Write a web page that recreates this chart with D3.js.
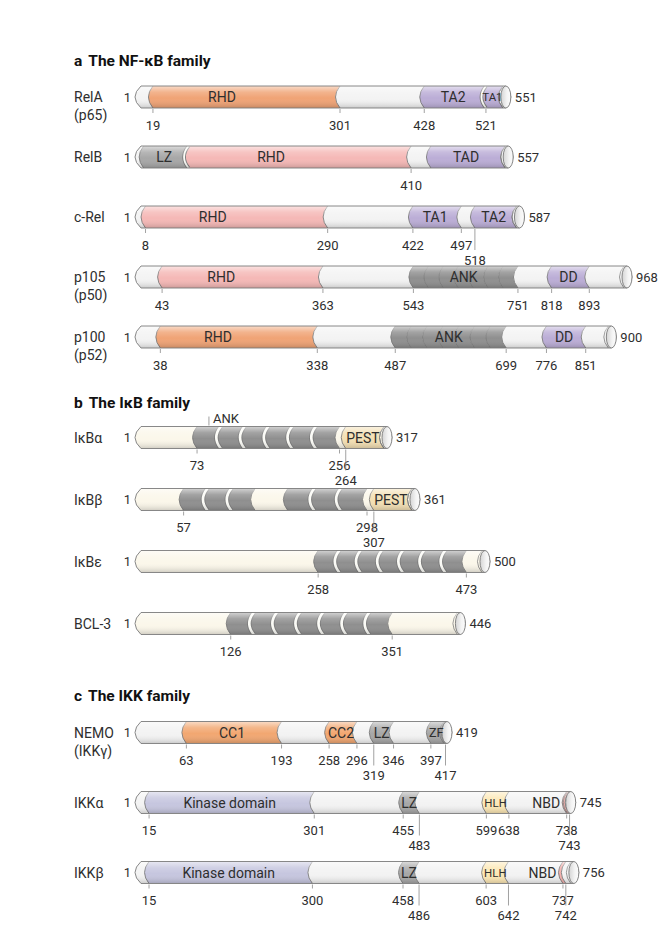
<!DOCTYPE html>
<html><head><meta charset="utf-8">
<script src="https://cdn.jsdelivr.net/npm/d3@7"></script>
<style>
body{margin:0;background:#fff;}
text{font-family:Roboto,"Liberation Sans",sans-serif;fill:#2e2e2e;}
</style></head><body><svg id="c" width="660" height="928"></svg>
<script>
// ---------------- data ----------------
const families = ["a", "b", "c"];
const familyTitles = ["The NF-κB family", "The IκB family", "The IKK family"];
const proteins = ["RelA","RelB","c-Rel","p105","p100","IκBα","IκBβ","IκBε","BCL-3","NEMO","IKKα","IKKβ"];
const proteinAliases = ["(p65)","","","(p50)","(p52)","","","","","(IKKγ)","",""];
const proteinFamily = ["a","a","a","a","a","b","b","b","b","c","c","c"];
const proteinLengths = [551,557,587,968,900,317,361,500,446,419,745,756];
// [protein, label, start residue, end residue, domain type, number of repeats]
const domains = [
 ["RelA","RHD",19,301,"RHDo",1],
 ["RelA","TA2",428,521,"TA",1],
 ["RelA","TA1",521,551,"TA",1],
 ["RelB","LZ",5,73,"LZ",1],
 ["RelB","RHD",73,410,"RHDp",1],
 ["RelB","TAD",440,557,"TA",1],
 ["c-Rel","RHD",8,290,"RHDp",1],
 ["c-Rel","TA1",422,497,"TA",1],
 ["c-Rel","TA2",518,587,"TA",1],
 ["p105","RHD",43,363,"RHDp",1],
 ["p105","ANK",543,751,"ANK",7],
 ["p105","DD",818,893,"TA",1],
 ["p100","RHD",38,338,"RHDo",1],
 ["p100","ANK",487,699,"ANK",7],
 ["p100","DD",776,851,"TA",1],
 ["IκBα","",73,256,"ANK",6],
 ["IκBα","PEST",264,317,"PEST",1],
 ["IκBβ","",57,151,"ANK",3],
 ["IκBβ","",194,298,"ANK",3],
 ["IκBβ","PEST",307,361,"PEST",1],
 ["IκBε","",258,473,"ANK",7],
 ["BCL-3","",126,351,"ANK",7],
 ["NEMO","CC1",63,193,"CC",1],
 ["NEMO","CC2",258,296,"CC",1],
 ["NEMO","LZ",319,346,"LZ",1],
 ["NEMO","ZF",397,417,"LZ",1],
 ["IKKα","Kinase domain",15,301,"KD",1],
 ["IKKα","LZ",455,483,"LZ",1],
 ["IKKα","HLH",599,638,"HLH",1],
 ["IKKα","NBD",738,743,"NBD",1],
 ["IKKβ","Kinase domain",15,300,"KD",1],
 ["IKKβ","LZ",458,486,"LZ",1],
 ["IKKβ","HLH",603,642,"HLH",1],
 ["IKKβ","NBD",737,742,"NBD",1]
];
const residueTicks = [
 ["RelA",[19,301,428,521]],
 ["RelB",[410]],
 ["c-Rel",[8,290,422,497,518]],
 ["p105",[43,363,543,751,818,893]],
 ["p100",[38,338,487,699,776,851]],
 ["IκBα",[73,256,264]],
 ["IκBβ",[57,298,307]],
 ["IκBε",[258,473]],
 ["BCL-3",[126,351]],
 ["NEMO",[63,193,258,296,319,346,397,417]],
 ["IKKα",[15,301,455,483,599,638,738,743]],
 ["IKKβ",[15,300,458,486,603,642,737,742]]
];
const callouts = [["IκBα","ANK",73]];

// ---------------- styles / layout ----------------
const colors = {RHDo:"#f0a375", RHDp:"#f5b8b6", TA:"#bbadd6", LZ:"#a7a7a7", ANK:"#8f8f8f",
  PEST:"#f3dfb3", KD:"#c6c6df", HLH:"#fde8b5", NBD:"#f4afab", CC:"#f2a771"};
const baseColors = {a:"#f3f3f3", b:"#fbf7ea", c:"#f3f3f3"};
const sectionLayout = {a:{title:61, rows:[97,337]}, b:{title:403, rows:[437.5,623.5]}, c:{title:696, rows:[732.5,872.5]}};
const TEXT_X = 74, BAR_X = 141, BAR_H = 22, CURVE = 4.5, CAP_RX = 5;
const FS_NUM = 13, FS_NAME = 14, FS_LABEL = 14, FS_TITLE = 15.5;
const STROKE = "#7b7b7b";

const svg = d3.select("#c");
const defs = svg.append("defs");
const shade = defs.append("linearGradient").attr("id","shade").attr("x1",0).attr("y1",0).attr("x2",0).attr("y2",1);
[[0,"#fff",0.6],[0.28,"#fff",0.18],[0.55,"#fff",0],[1,"#000",0.17]].forEach(([o,c,a]) =>
  shade.append("stop").attr("offset",o).attr("stop-color",c).attr("stop-opacity",a));
const capG = defs.append("linearGradient").attr("id","capg").attr("x1",0).attr("y1",0).attr("x2",1).attr("y2",0);
[[0,"#d4d4d4"],[0.6,"#f4f4f4"],[1,"#fcfcfc"]].forEach(([o,c]) => capG.append("stop").attr("offset",o).attr("stop-color",c));

// drawn bar length grows with log(protein length)
const widthScale = d3.scaleLog().domain(d3.extent(proteinLengths)).range([246, 486]);

// titles
families.forEach((f, i) => {
  const t = svg.append("text").attr("x", TEXT_X).attr("y", sectionLayout[f].title)
    .attr("dominant-baseline","central").attr("font-size", FS_TITLE).attr("font-weight","bold").style("fill","#111");
  t.append("tspan").text(f);
  t.append("tspan").attr("dx", 6).text(familyTitles[i]);
});

// row positions
const rowY = {};
families.forEach(f => {
  const names = proteins.filter((p, i) => proteinFamily[i] === f);
  const s = d3.scalePoint().domain(names).range(sectionLayout[f].rows);
  names.forEach(n => rowY[n] = s(n));
});

const paren = (x, top, bot, b) => `M${x},${top} Q${x - 2*b},${(top+bot)/2} ${x},${bot}`;

proteins.forEach((p, i) => {
  const len = proteinLengths[i], fam = proteinFamily[i];
  const cy = rowY[p], top = cy - BAR_H/2, bot = cy + BAR_H/2;
  const x = d3.scaleLinear().domain([1, len]).range([BAR_X, BAR_X + widthScale(len)]);
  const xL = x(1), xR = x(len);
  const g = svg.append("g");

  // names
  g.append("text").attr("x", TEXT_X).attr("y", cy).attr("dominant-baseline","central")
    .attr("font-size", FS_NAME).text(p);
  if (proteinAliases[i]) g.append("text").attr("x", TEXT_X).attr("y", cy + 18).attr("dominant-baseline","central")
    .attr("font-size", FS_NAME).text(proteinAliases[i]);
  g.append("text").attr("x", xL - 10).attr("y", cy).attr("text-anchor","end").attr("dominant-baseline","central")
    .attr("font-size", FS_NUM).text("1");

  const barD = `M${xL},${top} Q${xL-12},${cy} ${xL},${bot} L${xR},${bot} Q${xR+2*CAP_RX},${cy} ${xR},${top} Z`;
  const clipId = "clip" + i;
  defs.append("clipPath").attr("id", clipId).append("path").attr("d", barD);
  const body = g.append("g").attr("clip-path", `url(#${clipId})`);
  body.append("path").attr("d", barD).attr("fill", baseColors[fam]);

  const doms = domains.filter(d => d[0] === p);
  const segs = [];
  doms.forEach(d => {
    const n = d[5], step = (d[3] - d[2]) / n;
    for (let k = 0; k < n; k++) segs.push({s: d[2] + k*step, e: d[2] + (k+1)*step, type: d[4], repeat: k > 0});
  });
  const edges = [];
  segs.forEach((s, j) => {
    const xs = x(s.s);
    const xe = s.e >= len ? xR - 3 : x(s.e);
    const bl = s.s <= 1 ? 6 : CURVE;
    body.append("path")
      .attr("d", `M${xs},${top} Q${xs-2*bl},${cy} ${xs},${bot} L${xe},${bot} Q${xe-2*CURVE},${cy} ${xe},${top} Z`)
      .attr("fill", colors[s.type]);
    const prev = segs[j-1];
    const adjacent = prev && Math.abs(prev.e - s.s) < 0.01;
    if (s.s > 1) edges.push({x: xs, band: adjacent && !(s.repeat && fam === "a")});
    edges.push({x: xe, band: false});
  });
  const edgeMap = new Map();
  edges.forEach(e => { const k = e.x.toFixed(2); if (!edgeMap.has(k) || e.band) edgeMap.set(k, e); });
  edgeMap.forEach(e => {
    if (e.band) {
      body.append("path").attr("d", paren(e.x, top, bot, CURVE)).attr("fill","none").attr("stroke", STROKE).attr("stroke-width", fam === "b" ? 4.4 : 3.6);
      body.append("path").attr("d", paren(e.x, top, bot, CURVE)).attr("fill","none").attr("stroke", "#fbfbf6").attr("stroke-width", fam === "b" ? 2.6 : 1.8);
    } else {
      body.append("path").attr("d", paren(e.x, top, bot, CURVE)).attr("fill","none").attr("stroke", STROKE).attr("stroke-width", 0.9);
    }
  });
  body.append("path").attr("d", paren(xR - 3, top, bot, CURVE)).attr("fill","none").attr("stroke", STROKE).attr("stroke-width", 0.8);
  body.append("rect").attr("x", xL - 8).attr("y", top).attr("width", xR - xL + 20).attr("height", BAR_H).attr("fill","url(#shade)");
  g.append("path").attr("d", barD).attr("fill","none").attr("stroke", STROKE).attr("stroke-width", 0.9);
  g.append("ellipse").attr("cx", xR).attr("cy", cy).attr("rx", CAP_RX).attr("ry", BAR_H/2)
    .attr("fill","url(#capg)").attr("stroke", STROKE).attr("stroke-width", 0.9);
  g.append("text").attr("x", xR + CAP_RX + 4).attr("y", cy).attr("dominant-baseline","central")
    .attr("font-size", FS_NUM).text(len);

  // domain labels
  doms.forEach(d => {
    if (!d[1]) return;
    const xs = x(d[2]), xe = d[3] >= len ? xR - 3 : x(d[3]);
    const wDom = xe - xs;
    const t = g.append("text").text(d[1]).attr("font-size", FS_LABEL).attr("y", cy).attr("dominant-baseline","central");
    let tw = t.node().getComputedTextLength();
    if (tw > wDom) {
      const fs = Math.max(FS_LABEL * 0.82, FS_LABEL * wDom / tw);
      t.attr("font-size", fs); tw = t.node().getComputedTextLength();
    }
    if (tw <= wDom + 8) {
      const frac = d[1] === "RHD" ? 0.38 : 0.5;
      t.attr("x", xs + frac * wDom - 2).attr("text-anchor","middle");
    } else {
      t.attr("font-size", FS_LABEL).attr("x", xs - CURVE - 2).attr("text-anchor","end");
    }
  });

  // callouts above
  callouts.filter(c => c[0] === p).forEach(c => {
    const d = doms.find(dd => dd[2] === c[2]);
    const step = (d[3] - d[2]) / d[5];
    const cx = x(d[2] + step/2);
    g.append("line").attr("x1", cx).attr("x2", cx).attr("y1", top - 1).attr("y2", top - 10).attr("stroke","#888").attr("stroke-width",0.8);
    g.append("text").attr("x", cx + 4).attr("y", top - 8).attr("dominant-baseline","central").attr("font-size", FS_NUM).text(c[1]);
  });

  // residue ticks (labels that would collide drop to a second row)
  const ticks = residueTicks.find(t => t[0] === p)[1].slice().sort((a, b) => a - b);
  const lastRight = [-Infinity, -Infinity];
  ticks.forEach(r => {
    const tx = x(r);
    const t = g.append("text").attr("x", tx).attr("text-anchor","middle").attr("dominant-baseline","central")
      .attr("font-size", FS_NUM).text(r);
    const w = t.node().getComputedTextLength();
    let row = 0;
    if (tx - w/2 < lastRight[0] + 0.5) row = (tx - w/2 < lastRight[1] + 0.5) ? 0 : 1;
    lastRight[row] = tx + w/2;
    t.attr("y", bot + (row ? 32 : 17));
    g.append("line").attr("x1", tx).attr("x2", tx).attr("y1", bot + 1).attr("y2", bot + (row ? 22 : 5))
      .attr("stroke", "#8a8a8a").attr("stroke-width", 0.8);
  });
});
</script></body></html>
